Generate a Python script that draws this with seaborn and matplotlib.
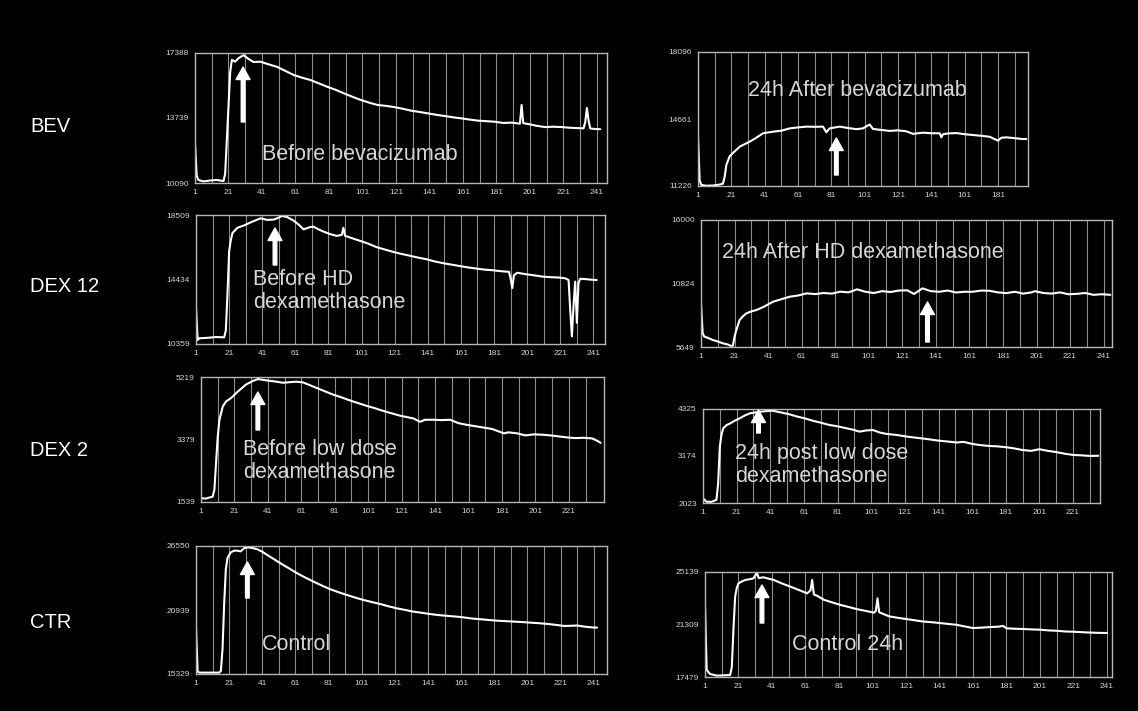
import pandas as pd
import matplotlib
matplotlib.use('Agg')
import matplotlib.pyplot as plt
import seaborn as sns

# ---- values ----
row_labels = ['BEV', 'DEX 12', 'DEX 2', 'CTR']

bev_pre_x = [1, 2, 3, 6, 10, 14, 18, 19, 20, 22, 23, 25, 27, 30, 33, 36, 40, 45, 50, 55,
             60, 65, 70, 75, 80, 85, 90, 95, 100, 105, 110, 115, 120, 125, 130, 135, 140,
             145, 150, 155, 160, 165, 170, 175, 180, 185, 190, 195, 196, 197, 200, 205,
             210, 215, 220, 225, 230, 233, 234, 235, 236, 237, 240, 243]
bev_pre_y = [12330, 10500, 10260, 10180, 10230, 10260, 10200, 10600, 12500, 16300, 17000,
             16900, 17100, 17270, 17050, 16880, 16900, 16750, 16610, 16380, 16150, 16000,
             15870, 15680, 15490, 15320, 15120, 14930, 14750, 14600, 14470, 14420, 14350,
             14260, 14150, 14080, 14000, 13920, 13850, 13780, 13720, 13650, 13590, 13560,
             13530, 13460, 13480, 13420, 14470, 13450, 13400, 13300, 13230, 13250, 13230,
             13190, 13170, 13160, 13500, 14300, 13600, 13150, 13120, 13110]

bev_24_x = [1, 2, 3, 6, 10, 14, 16, 17, 18, 20, 22, 26, 32, 36, 40, 46, 51, 56, 61, 66,
            71, 76, 78, 80, 86, 91, 96, 100, 104, 106, 111, 116, 121, 126, 130, 136, 141,
            146, 147, 148, 151, 156, 161, 166, 171, 176, 181, 183, 186, 191, 196, 198]
bev_24_y = [13740, 11500, 11280, 11240, 11250, 11300, 11350, 11700, 12300, 12750, 12920,
            13240, 13500, 13700, 13930, 14010, 14060, 14180, 14230, 14270, 14260, 14270,
            13980, 14180, 14270, 14200, 14140, 14180, 14380, 14150, 14100, 14050, 14080,
            14030, 13900, 13960, 13930, 13930, 13720, 13880, 13920, 13940, 13880, 13840,
            13800, 13750, 13550, 13700, 13720, 13680, 13630, 13640]

dex12_pre_x = [1, 2, 3, 8, 13, 18, 19, 20, 21, 22, 23, 26, 30, 35, 40, 44, 48, 51, 53, 56,
               60, 63, 66, 70, 72, 75, 78, 82, 86, 89, 90, 91, 95, 100, 105, 110, 115, 120,
               125, 130, 135, 140, 145, 150, 155, 160, 165, 170, 175, 180, 185, 190, 191,
               192, 193, 195, 200, 205, 210, 215, 220, 224, 226, 227, 228, 229, 230, 231,
               232, 233, 236, 240, 243]
dex12_pre_y = [12630, 10610, 10720, 10750, 10800, 10780, 11200, 13500, 16200, 16900, 17370,
               17700, 17850, 18090, 18300, 18200, 18220, 18350, 18450, 18380, 18150, 17900,
               17600, 17750, 17770, 17600, 17460, 17300, 17190, 17250, 17700, 17200, 17050,
               16880, 16700, 16480, 16330, 16180, 16050, 15940, 15820, 15720, 15580, 15470,
               15380, 15290, 15200, 15130, 15060, 15020, 14960, 14920, 14500, 13890, 14700,
               14860, 14770, 14700, 14620, 14580, 14560, 14510, 14400, 12500, 10840, 12800,
               14300, 11700, 14200, 14480, 14460, 14420, 14400]

dex12_24_x = [1, 2, 3, 5, 8, 11, 14, 17, 19, 20, 21, 22, 24, 26, 28, 31, 34, 38, 44, 49,
              54, 59, 64, 69, 74, 79, 84, 89, 94, 99, 104, 109, 114, 119, 124, 128, 133,
              138, 143, 148, 153, 158, 163, 168, 173, 178, 183, 188, 193, 198, 200, 205,
              210, 215, 220, 225, 230, 235, 240, 245]
dex12_24_y = [9170, 6760, 6490, 6400, 6220, 6100, 5950, 5850, 5730, 5760, 6490, 7000, 7850,
              8150, 8390, 8550, 8660, 8900, 9340, 9550, 9750, 9850, 10020, 9960, 10050,
              10000, 10160, 10100, 10350, 10150, 10050, 10200, 10130, 10250, 10270, 9970,
              10430, 10200, 10150, 10250, 10090, 10150, 10150, 10250, 10230, 10100, 10040,
              10150, 10000, 10100, 10200, 10050, 10000, 10100, 9950, 9980, 10050, 9900,
              9950, 9900]

dex2_pre_x = [1, 4, 8, 9, 10, 11, 12, 14, 16, 19, 23, 28, 32, 35, 40, 45, 50, 55, 58, 62,
              66, 70, 75, 80, 85, 90, 95, 100, 105, 110, 115, 120, 125, 128, 132, 135, 140,
              145, 150, 155, 160, 165, 170, 175, 180, 182, 185, 190, 195, 200, 205, 210,
              215, 220, 225, 230, 235, 238, 240]
dex2_pre_y = [1650, 1640, 1700, 1900, 2700, 3460, 3950, 4350, 4500, 4600, 4790, 5000, 5100,
              5160, 5120, 5090, 5050, 5070, 5080, 5060, 4980, 4900, 4800, 4700, 4620, 4530,
              4450, 4370, 4300, 4220, 4150, 4080, 4030, 4000, 3900, 3960, 3960, 3950, 3960,
              3860, 3810, 3770, 3730, 3690, 3600, 3560, 3590, 3560, 3500, 3530, 3520, 3500,
              3470, 3440, 3420, 3430, 3410, 3340, 3280]

dex2_24_x = [1, 3, 6, 9, 10, 11, 12, 13, 15, 17, 20, 23, 26, 29, 32, 35, 38, 42, 45, 48,
             52, 57, 62, 66, 71, 76, 81, 86, 90, 94, 98, 102, 106, 110, 116, 122, 128, 134,
             141, 146, 152, 156, 161, 166, 171, 176, 181, 186, 191, 196, 201, 206, 211,
             216, 221, 226, 231, 236]
dex2_24_y = [2140, 2055, 2050, 2100, 2500, 3400, 3700, 3850, 3930, 3970, 4040, 4100, 4170,
             4220, 4240, 4260, 4270, 4285, 4260, 4235, 4200, 4140, 4090, 4040, 3990, 3935,
             3900, 3855, 3820, 3770, 3800, 3810, 3750, 3715, 3690, 3650, 3620, 3590, 3550,
             3530, 3505, 3520, 3470, 3440, 3420, 3410, 3390, 3360, 3320, 3300, 3340, 3300,
             3270, 3230, 3200, 3190, 3175, 3180]

ctr_pre_x = [1, 2, 3, 8, 12, 15, 16, 17, 18, 19, 20, 22, 24, 26, 28, 30, 32, 35, 38, 41,
             44, 48, 52, 57, 62, 67, 72, 77, 82, 87, 92, 97, 102, 107, 112, 117, 122, 127,
             132, 137, 142, 147, 153, 158, 162, 167, 173, 178, 183, 188, 193, 198, 203,
             208, 213, 218, 223, 228, 231, 236, 241, 243]
ctr_pre_y = [19340, 15530, 15450, 15450, 15450, 15450, 15600, 17500, 21500, 24500, 25500,
             26000, 26140, 26140, 26080, 26350, 26430, 26380, 26260, 26050, 25760, 25400,
             25030, 24600, 24160, 23780, 23420, 23080, 22760, 22500, 22260, 22030, 21820,
             21640, 21470, 21270, 21090, 20950, 20800, 20700, 20590, 20500, 20420, 20360,
             20300, 20200, 20125, 20060, 20000, 19960, 19920, 19880, 19830, 19780, 19720,
             19640, 19540, 19560, 19580, 19470, 19400, 19400]

ctr_24_x = [1, 2, 4, 8, 12, 16, 17, 18, 19, 20, 21, 23, 25, 28, 30, 32, 33, 36, 39, 42,
            47, 52, 57, 62, 64, 65, 66, 68, 72, 77, 82, 87, 92, 97, 102, 103, 104, 105,
            107, 111, 116, 121, 126, 131, 136, 141, 146, 151, 156, 161, 166, 171, 176, 179,
            181, 186, 191, 196, 201, 206, 211, 216, 221, 226, 231, 236, 241]
ctr_24_y = [22730, 17990, 17700, 17580, 17600, 17620, 18200, 21000, 23340, 24000, 24310,
            24450, 24560, 24620, 24680, 25090, 24700, 24750, 24650, 24560, 24300, 24070,
            23830, 23580, 23800, 24560, 23500, 23400, 23110, 22920, 22730, 22580, 22420,
            22300, 22170, 22300, 23220, 22200, 22100, 21900, 21800, 21710, 21620, 21530,
            21480, 21420, 21350, 21290, 21170, 21050, 21080, 21120, 21150, 21200, 21030,
            21000, 20980, 20950, 20930, 20880, 20850, 20800, 20780, 20750, 20720, 20700,
            20690]

# y tick labels (min / mid / max of each trace)
bev_pre_yticks = [10090, 13739, 17388]
bev_24_yticks = [11226, 14661, 18096]
dex12_pre_yticks = [10359, 14434, 18509]
dex12_24_yticks = [5649, 10824, 16000]
dex2_pre_yticks = [1539, 3379, 5219]
dex2_24_yticks = [2023, 3174, 4325]
ctr_pre_yticks = [15329, 20939, 26550]
ctr_24_yticks = [17479, 21309, 25139]

# x tick labels
xticks_241 = [1, 21, 41, 61, 81, 101, 121, 141, 161, 181, 201, 221, 241]
xticks_221 = [1, 21, 41, 61, 81, 101, 121, 141, 161, 181, 201, 221]
xticks_181 = [1, 21, 41, 61, 81, 101, 121, 141, 161, 181]

captions = ['Before bevacizumab', '24h After bevacizumab',
            'Before HD\ndexamethasone', '24h After HD dexamethasone',
            'Before low dose\ndexamethasone', '24h post low dose\ndexamethasone',
            'Control', 'Control 24h']
arrow_frames = [29.7, 84, 48.7, 136, 35, 34, 32, 35]

# ---- style ----
sns.set_style('dark', {'axes.facecolor': 'black', 'figure.facecolor': 'black'})
plt.rcParams['font.family'] = ['Liberation Sans', 'DejaVu Sans']

W, H = 1138, 711
fig = plt.figure(figsize=(W / 100, H / 100), dpi=100, facecolor='black')


def px_text(x, y, s, **kw):
    fig.text(x / W, 1 - y / H, s, **kw)


# panel boxes in pixels: left, top, right, bottom, x max
panels = [
    (bev_pre_x, bev_pre_y, bev_pre_yticks, xticks_241, (195, 53, 607, 183, 247)),
    (bev_24_x, bev_24_y, bev_24_yticks, xticks_181, (698, 52, 1028, 186, 199)),
    (dex12_pre_x, dex12_pre_y, dex12_pre_yticks, xticks_241, (196, 215, 605, 344, 248)),
    (dex12_24_x, dex12_24_y, dex12_24_yticks, xticks_241, (701, 220, 1112, 347, 246)),
    (dex2_pre_x, dex2_pre_y, dex2_pre_yticks, xticks_221, (201, 377, 604, 502, 242)),
    (dex2_24_x, dex2_24_y, dex2_24_yticks, xticks_221, (703, 409, 1100, 503, 237)),
    (ctr_pre_x, ctr_pre_y, ctr_pre_yticks, xticks_241, (196, 546, 607, 674, 249)),
    (ctr_24_x, ctr_24_y, ctr_24_yticks, xticks_241, (705, 572, 1112, 677, 244)),
]

# caption anchor (left x, centre y) and arrow tail/tip in pixels
caption_pos = [(262, 155), (748, 90), (253, 291), (722, 253),
               (243, 461), (735, 465), (262, 645), (792, 645)]
arrow_px = [(122, 67), (175, 138), (265, 228), (342, 302),
            (430, 392), (433, 410), (598, 562), (623, 585)]

for i, (xs, ys, yt, xt, box) in enumerate(panels):
    left, top, right, bottom, xmax = box
    ax = fig.add_axes([left / W, 1 - bottom / H, (right - left) / W, (bottom - top) / H])
    ax.set_facecolor('black')
    df = pd.DataFrame({'frame': xs, 'signal': ys})
    sns.lineplot(data=df, x='frame', y='signal', ax=ax, color='white',
                 lw=1.5, estimator=None)
    ax.set_xlim(1, xmax)
    ax.set_ylim(yt[0], yt[-1])
    ax.set_xlabel('')
    ax.set_ylabel('')

    ax.set_xticks([t for t in xt if t <= xmax])
    ax.set_xticks([t + 10 for t in xt if t + 10 < xmax], minor=True)
    ax.set_yticks(yt)
    ax.set_yticklabels([str(v) for v in yt])
    span = yt[-1] - yt[0]
    ax.set_yticks([yt[0] + 0.25 * span, yt[0] + 0.75 * span], minor=True)

    ax.grid(True, axis='x', which='both', color='#8c8c8c', lw=0.8)
    ax.grid(False, axis='y')
    for sp in ax.spines.values():
        sp.set_color('#b5b5b5')
        sp.set_linewidth(1.0)
    ax.tick_params(axis='both', which='both', colors='#b5b5b5', labelcolor='#d2d2d2',
                   labelsize=6, length=2.5, width=0.8, pad=2)
    ax.tick_params(axis='x', which='minor', length=0)

    # caption and arrow
    cx, cy = caption_pos[i]
    px_text(cx, cy, captions[i], color='#d6d6d6', fontsize=15.5, ha='left', va='center',
            linespacing=1.15)
    tail, tip = arrow_px[i]
    h = bottom - top
    ax.annotate('', xy=(arrow_frames[i], (bottom - tip) / h),
                xytext=(arrow_frames[i], (bottom - tail) / h),
                xycoords=('data', 'axes fraction'), textcoords=('data', 'axes fraction'),
                arrowprops=dict(facecolor='white', edgecolor='white', width=2.6,
                                headwidth=10, headlength=9, shrink=0))

# row labels
for lab, y in zip(row_labels, [127, 287, 451, 622]):
    px_text(30, y, lab, color='white', fontsize=14.5, ha='left', va='center')

fig.savefig('out.png', dpi=100, facecolor='black')
